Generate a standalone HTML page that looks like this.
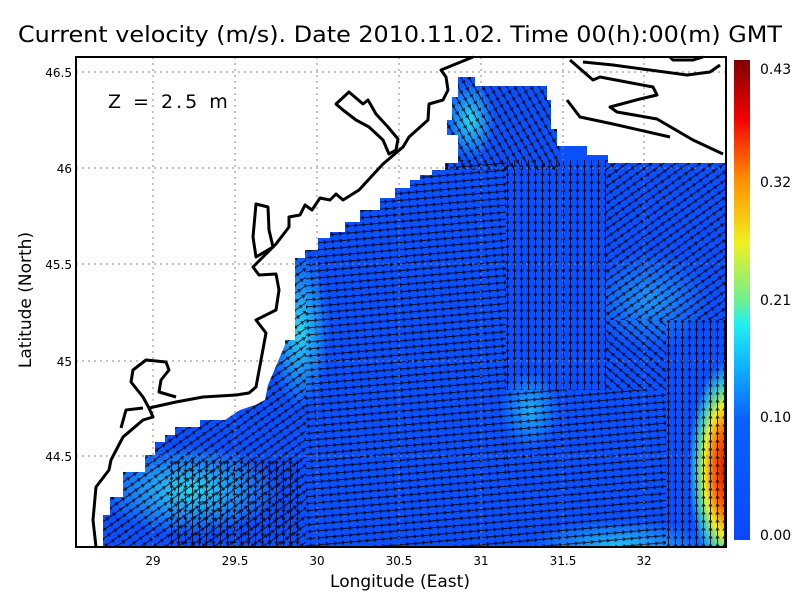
<!DOCTYPE html>
<html><head><style>
body{margin:0;background:#fff;}
svg text{font-family:"DejaVu Sans","Liberation Sans",sans-serif;}
</style></head><body>
<svg width="800" height="600" xmlns="http://www.w3.org/2000/svg">
<defs>
<pattern id="pA" width="8" height="7" patternUnits="userSpaceOnUse" patternTransform="rotate(-35)">
<path d="M0,3.5 L8,3.5 M8,3.5 L5.5,1.8 M8,3.5 L5.5,5.2" stroke="#000" stroke-width="1.1" fill="none"/>
</pattern>
<pattern id="pB" width="8" height="7" patternUnits="userSpaceOnUse" patternTransform="rotate(-5)">
<path d="M0,3.5 L8,3.5 M8,3.5 L5.5,1.8 M8,3.5 L5.5,5.2" stroke="#000" stroke-width="1.1" fill="none"/>
</pattern>
<pattern id="pC" width="8" height="7" patternUnits="userSpaceOnUse" patternTransform="rotate(60)">
<path d="M0,3.5 L8,3.5 M8,3.5 L5.5,1.8 M8,3.5 L5.5,5.2" stroke="#000" stroke-width="1.1" fill="none"/>
</pattern>
<pattern id="pD" width="8" height="7" patternUnits="userSpaceOnUse" patternTransform="rotate(90)">
<path d="M0,3.5 L8,3.5 M8,3.5 L5.5,1.8 M8,3.5 L5.5,5.2" stroke="#000" stroke-width="1.1" fill="none"/>
</pattern>
<pattern id="pE" width="8" height="7" patternUnits="userSpaceOnUse" patternTransform="rotate(175)">
<path d="M0,3.5 L8,3.5 M8,3.5 L5.5,1.8 M8,3.5 L5.5,5.2" stroke="#000" stroke-width="1.1" fill="none"/>
</pattern>
<pattern id="pF" width="8" height="7" patternUnits="userSpaceOnUse" patternTransform="rotate(-90)">
<path d="M0,3.5 L8,3.5 M8,3.5 L5.5,1.8 M8,3.5 L5.5,5.2" stroke="#000" stroke-width="1.1" fill="none"/>
</pattern>
<pattern id="pG" width="8" height="7" patternUnits="userSpaceOnUse" patternTransform="rotate(-140)">
<path d="M0,3.5 L8,3.5 M8,3.5 L5.5,1.8 M8,3.5 L5.5,5.2" stroke="#000" stroke-width="1.1" fill="none"/>
</pattern>
<clipPath id="sea"><path d="M103,547 L103,515 L110,515 L110,497 L123,497 L123,472 L145,472 L145,455 L155,455 L155,442 L165,442 L165,435 L175,435 L175,427 L200,427 L200,420 L225,420 L240,410 L255,405 L265,400 L268,385 L285,345 L285,340 L295,340 L295,258 L305,258 L305,250 L318,250 L318,238 L330,238 L330,232 L345,232 L345,222 L360,222 L360,210 L380,210 L380,198 L395,198 L395,188 L410,188 L410,180 L420,180 L420,175 L432,175 L432,170 L445,170 L445,163 L458,163 L458,135 L447,135 L447,120 L452,120 L452,97 L458,97 L458,77 L475,77 L475,86 L547,86 L547,100 L551,100 L551,129 L557,129 L557,146 L587,146 L587,155 L608,155 L608,163 L726,163 L726,547 Z"/></clipPath>
<radialGradient id="cy" cx="50%" cy="50%" r="50%"><stop offset="0" stop-color="#2ee8f0" stop-opacity="0.9"/><stop offset="1" stop-color="#2ee8f0" stop-opacity="0"/></radialGradient>
<radialGradient id="red" cx="50%" cy="50%" r="50%"><stop offset="0" stop-color="#d00000"/><stop offset="0.35" stop-color="#ff6000"/><stop offset="0.6" stop-color="#f0f020"/><stop offset="0.8" stop-color="#40f0c0" stop-opacity="0.7"/><stop offset="1" stop-color="#30e0f0" stop-opacity="0"/></radialGradient>
<linearGradient id="cb" x1="0" y1="1" x2="0" y2="0">
<stop offset="0" stop-color="#0a48ff"/><stop offset="0.25" stop-color="#0a60ff"/><stop offset="0.38" stop-color="#10c0ff"/><stop offset="0.45" stop-color="#20f0f0"/><stop offset="0.5" stop-color="#70f090"/><stop offset="0.62" stop-color="#f0f020"/><stop offset="0.75" stop-color="#ff9000"/><stop offset="0.88" stop-color="#f00000"/><stop offset="1" stop-color="#800000"/>
</linearGradient>
</defs>
<text x="400" y="42" font-size="22" text-anchor="middle" textLength="764" lengthAdjust="spacingAndGlyphs">Current velocity (m/s). Date 2010.11.02. Time 00(h):00(m) GMT</text>
<g clip-path="url(#sea)">
<rect x="76" y="57" width="650" height="490" fill="#0a50ff"/>
<ellipse cx="190" cy="490" rx="90" ry="45" fill="url(#cy)"/>
<ellipse cx="300" cy="330" rx="30" ry="80" fill="url(#cy)"/>
<ellipse cx="470" cy="120" rx="25" ry="40" fill="url(#cy)"/>
<ellipse cx="530" cy="410" rx="30" ry="40" fill="url(#cy)" opacity="0.7"/>
<ellipse cx="650" cy="300" rx="60" ry="50" fill="url(#cy)" opacity="0.5"/>
<ellipse cx="620" cy="545" rx="90" ry="25" fill="url(#cy)" opacity="0.8"/>
<ellipse cx="728" cy="470" rx="40" ry="110" fill="url(#red)"/>
<g opacity="0.85">
<rect x="76" y="240" width="230" height="310" fill="url(#pA)"/>
<rect x="306" y="160" width="200" height="390" fill="url(#pB)"/>
<rect x="440" y="70" width="120" height="100" fill="url(#pC)"/>
<rect x="506" y="160" width="100" height="230" fill="url(#pD)"/>
<rect x="606" y="160" width="120" height="160" fill="url(#pA)"/>
<rect x="606" y="320" width="60" height="70" fill="url(#pG)"/>
<rect x="506" y="390" width="160" height="100" fill="url(#pE)"/>
<rect x="666" y="320" width="60" height="230" fill="url(#pF)"/>
<rect x="506" y="490" width="160" height="60" fill="url(#pB)"/>
<rect x="170" y="460" width="130" height="90" fill="url(#pD)"/>
</g>
</g>
<g stroke="#888" stroke-width="1" stroke-dasharray="2,4">
<line x1="153" y1="57" x2="153" y2="547"/><line x1="235" y1="57" x2="235" y2="547"/><line x1="317" y1="57" x2="317" y2="547"/><line x1="399" y1="57" x2="399" y2="547"/><line x1="481" y1="57" x2="481" y2="547"/><line x1="563" y1="57" x2="563" y2="547"/><line x1="644" y1="57" x2="644" y2="547"/>
<line x1="76" y1="72" x2="726" y2="72"/><line x1="76" y1="168" x2="726" y2="168"/><line x1="76" y1="264" x2="726" y2="264"/><line x1="76" y1="361" x2="726" y2="361"/><line x1="76" y1="456" x2="726" y2="456"/>
</g>
<g fill="none" stroke="#000" stroke-width="3" stroke-linejoin="round">
<path d="M473,57 L441,70 L446,77 L448,90 L443,100 L429,104 L428,120 L409,137 L403,147 L383,164 L359,190 L343,200 L336,194 L330,200 L320,198 L312,210 L305,205 L300,215 L289,217 L289,227 L276,244 L266,254 L253,267 L259,275 L276,274 L279,290 L276,310 L256,320 L266,333 L261,360 L256,387 L249,393 L236,395 L203,397 L176,402 L149,408 L153,417 L143,420 L123,437 L111,460 L109,470 L96,487 L93,520 L96,547"/>
<path d="M256,204 L268,207 L269,230 L273,247 L256,257 L253,237 Z"/>
<path d="M336,104 L349,92 L363,104 L368,100 L376,114 L388,127 L398,139 L396,150 L389,154 L383,140 L369,127 L356,120 L343,110 Z"/>
<path d="M149,408 L143,397 L131,382 L133,370 L146,360 L166,362 L169,370 L161,380 L159,392 L176,397"/>
<path d="M143,408 L126,410 L121,428"/>
<path d="M570,60 L593,80 L600,77 L653,87 L657,95 L640,99 L610,107 L617,112 L657,119 L693,140 L723,154"/>
<path d="M583,62 L613,65 L687,75 L710,72 L720,65"/>
<path d="M670,57 L673,60 L693,60 L703,57"/>
<path d="M567,100 L580,117 L613,124 L670,137"/>
</g>
<rect x="76" y="57" width="650" height="490" fill="none" stroke="#000" stroke-width="2"/>
<text x="108" y="108" font-size="19" letter-spacing="3">Z = 2.5 m</text>
<g font-size="12" text-anchor="middle">
<text x="153" y="565">29</text><text x="235" y="565">29.5</text><text x="317" y="565">30</text><text x="399" y="565">30.5</text><text x="481" y="565">31</text><text x="563" y="565">31.5</text><text x="644" y="565">32</text>
</g>
<g font-size="12" text-anchor="end">
<text x="72" y="77">46.5</text><text x="72" y="173">46</text><text x="72" y="269">45.5</text><text x="72" y="366">45</text><text x="72" y="461">44.5</text>
</g>
<text x="400" y="587" font-size="17" text-anchor="middle">Longitude (East)</text>
<text transform="translate(31,300) rotate(-90)" font-size="17" text-anchor="middle">Latitude (North)</text>
<rect x="734" y="60" width="16" height="480" fill="url(#cb)"/>
<g font-size="14">
<text x="760" y="74">0.43</text><text x="760" y="187">0.32</text><text x="760" y="305">0.21</text><text x="760" y="422">0.10</text><text x="760" y="540">0.00</text>
</g>
</svg>
</body></html>
